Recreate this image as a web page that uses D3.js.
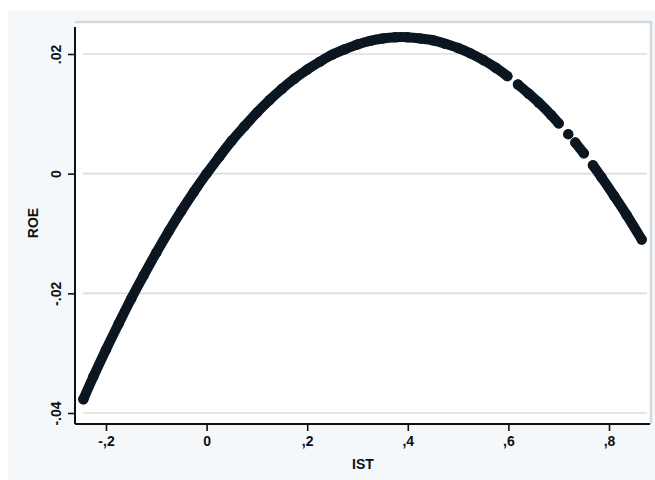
<!DOCTYPE html>
<html lang="en">
<head>
    <meta charset="UTF-8">
    <title>ROE vs IST</title>
    <script src="https://d3js.org/d3.v7.min.js"></script>
    <style>
        body { margin: 0; background: #fff; }
        text { font-family: "Liberation Sans", Arial, sans-serif; font-weight: bold; fill: #111; }
    </style>
</head>
<body>
<div id="chart"></div>
<script>
    // points, grouped into unbroken runs of the curve
    var istRun1 = [-0.245, -0.225, -0.2, -0.175, -0.15, -0.125, -0.1, -0.075, -0.05, -0.025, 0,
        0.025, 0.05, 0.075, 0.1, 0.125, 0.15, 0.175, 0.2, 0.225, 0.25, 0.275, 0.3, 0.325, 0.35,
        0.375, 0.4, 0.425, 0.45, 0.475, 0.5, 0.525, 0.55, 0.575, 0.598];
    var roeRun1 = [-0.0377, -0.0339, -0.0294, -0.0251, -0.0209, -0.0170, -0.0132, -0.0096, -0.0062, -0.0030, 0.0000,
        0.0028, 0.0055, 0.0079, 0.0102, 0.0123, 0.0142, 0.0159, 0.0174, 0.0187, 0.0199, 0.0208, 0.0216, 0.0222, 0.0226,
        0.0228, 0.0228, 0.0226, 0.0223, 0.0217, 0.0210, 0.0201, 0.0190, 0.0177, 0.0163];
    var istRun2 = [0.619, 0.64, 0.66, 0.685, 0.700];
    var roeRun2 = [0.0149, 0.0134, 0.0119, 0.0098, 0.0084];
    var istRun3 = [0.719];
    var roeRun3 = [0.0066];
    var istRun4 = [0.733, 0.750];
    var roeRun4 = [0.0052, 0.0034];
    var istRun5 = [0.768, 0.785, 0.81, 0.835, 0.865];
    var roeRun5 = [0.0014, -0.0006, -0.0037, -0.0069, -0.0110];

    var xTicks = [-0.2, 0, 0.2, 0.4, 0.6, 0.8];
    var yTicks = [-0.04, -0.02, 0, 0.02];
    var xLabels = ["-,2", "0", ",2", ",4", ",6", ",8"];
    var yLabels = ["-.04", "-.02", "0", ".02"];

    var W = 655, H = 480;
    var plot = {left: 75, right: 651, top: 22, bottom: 424};

    var x = d3.scaleLinear().domain([-0.2, 0.8]).range([106, 609]);
    var y = d3.scaleLinear().domain([-0.04, 0.02]).range([413, 54]);

    var svg = d3.select("#chart").append("svg")
        .attr("width", W).attr("height", H);

    // outer (graph region) background
    svg.append("rect").attr("x", 8).attr("y", 10)
        .attr("width", W - 8).attr("height", H - 10).attr("fill", "#f4f8fa");

    // plot region
    svg.append("rect").attr("x", plot.left).attr("y", plot.top)
        .attr("width", plot.right - plot.left).attr("height", plot.bottom - plot.top)
        .attr("fill", "#fff");
    svg.append("path")
        .attr("d", "M" + plot.left + "," + plot.top + "H" + plot.right + "V" + plot.bottom)
        .attr("fill", "none").attr("stroke", "#d6d8d9").attr("stroke-width", 2.5);

    // grid lines
    svg.append("g").selectAll("line").data(yTicks).join("line")
        .attr("x1", plot.left + 8).attr("x2", plot.right - 4)
        .attr("y1", function(d) { return y(d); }).attr("y2", function(d) { return y(d); })
        .attr("stroke", "#dcdcdc").attr("stroke-width", 1.6);

    // axes
    var xAxis = d3.axisBottom(x).tickValues(xTicks).tickSize(7)
        .tickFormat(function(d, i) { return xLabels[i]; });
    var yAxis = d3.axisLeft(y).tickValues(yTicks).tickSize(7)
        .tickFormat(function(d, i) { return yLabels[i]; });

    var gx = svg.append("g").attr("transform", "translate(0," + plot.bottom + ")").call(xAxis);
    gx.select(".domain").attr("d", "M" + plot.left + ",0H" + (plot.right - 1))
        .attr("stroke", "#111").attr("stroke-width", 2);
    gx.selectAll(".tick line").attr("stroke", "#111").attr("stroke-width", 1.6);
    gx.selectAll(".tick text").attr("y", 18).attr("dy", "0.32em")
        .style("font-size", "14px").attr("fill", "#111");

    var gy = svg.append("g").attr("transform", "translate(" + plot.left + ",0)").call(yAxis);
    gy.select(".domain").attr("d", "M0," + (plot.top + 5) + "V" + plot.bottom)
        .attr("stroke", "#111").attr("stroke-width", 2);
    gy.selectAll(".tick line").attr("stroke", "#111").attr("stroke-width", 1.6);
    gy.selectAll(".tick text")
        .attr("x", null).attr("dy", null)
        .attr("text-anchor", "middle")
        .attr("transform", "translate(-14,0) rotate(-90)")
        .style("font-size", "14px").attr("fill", "#111");

    // axis titles
    svg.append("text").attr("x", (plot.left + plot.right) / 2).attr("y", 469)
        .attr("text-anchor", "middle").style("font-size", "14px").text("IST");
    svg.append("text").attr("transform", "translate(38," + ((plot.top + plot.bottom) / 2) + ") rotate(-90)")
        .attr("text-anchor", "middle").style("font-size", "14px").text("ROE");

    // the scatter, drawn as thick runs of overlapping markers
    var runs = [[istRun1, roeRun1], [istRun2, roeRun2], [istRun3, roeRun3], [istRun4, roeRun4], [istRun5, roeRun5]];
    var markColor = "#0b1620";
    var line = d3.line()
        .x(function(d) { return x(d[0]); })
        .y(function(d) { return y(d[1]); })
        .curve(d3.curveCatmullRom);

    runs.forEach(function(r) {
        var pts = r[0].map(function(v, i) { return [v, r[1][i]]; });
        svg.append("path").datum(pts)
            .attr("d", line)
            .attr("fill", "none").attr("stroke", markColor)
            .attr("stroke-width", 10).attr("stroke-linecap", "round").attr("stroke-linejoin", "round");
        svg.append("g").selectAll("circle").data(pts).join("circle")
            .attr("cx", function(d) { return x(d[0]); })
            .attr("cy", function(d) { return y(d[1]); })
            .attr("r", 5.2).attr("fill", markColor);
    });
</script>
</body>
</html>
